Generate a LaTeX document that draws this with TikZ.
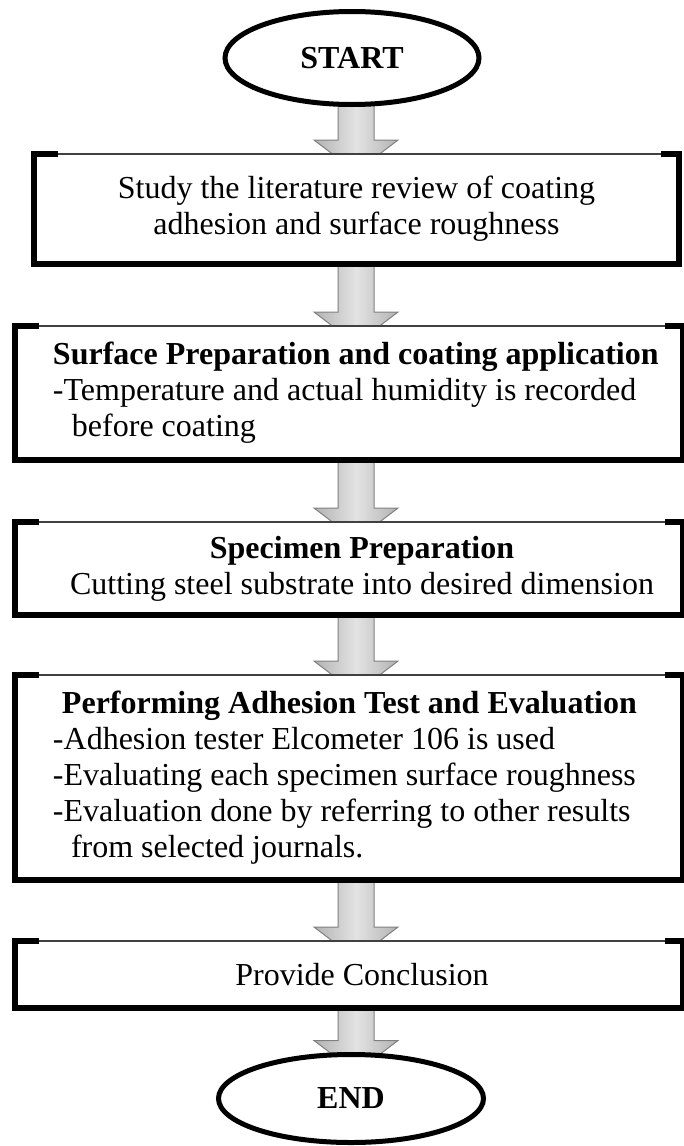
\documentclass[tikz,border=0pt]{standalone}
\usepackage{fontspec}
\setmainfont{Liberation Serif}
\usetikzlibrary{positioning,shapes.geometric,calc,backgrounds}

\tikzset{
  endpoint/.style={ellipse, draw, line width=5pt, fill=white, outer sep=0pt, inner sep=0pt, font=\fontsize{32}{36}\selectfont\bfseries},
  stepbox/.style={rectangle, draw=black!75, line width=2.5pt, fill=white, outer sep=0pt, inner sep=0pt, font=\fontsize{32}{36}\selectfont},
  listbox/.style={stepbox, text width=668pt, align=flush left},
  rim/.style={line width=6.5pt, line join=miter},
  blockarrow/.style={draw=gray, line width=1pt, left color=gray!60, right color=gray!60, middle color=gray!22}
}

\begin{document}
\begin{tikzpicture}
            \useasboundingbox (0,0) rectangle (683pt,-1146pt);

            % Nodes
            \node[endpoint, minimum width=254pt, minimum height=93pt] (start) at (352pt,-58pt) {START};
            \node[stepbox, minimum width=645pt, minimum height=110pt, align=center, below=49.5pt of start, xshift=4.5pt] (review) {Study the literature review of coating\\adhesion and surface roughness};
            \node[listbox, minimum width=668pt, minimum height=134pt, below=62pt of review, xshift=-7.5pt] (surface) {\hspace*{38pt}\textbf{Surface Preparation and coating application}\\\hspace*{38pt}-Temperature and actual humidity is recorded\\\hspace*{57pt}before coating};
            \node[stepbox, minimum width=668pt, minimum height=93pt, align=center, below=62pt of surface] (specimen) {\hspace*{26pt}\textbf{Specimen Preparation}\\\hspace*{26pt}Cutting steel substrate into desired dimension};
            \node[listbox, minimum width=668pt, minimum height=205pt, below=60pt of specimen] (adhesion) {\hspace*{47pt}\textbf{Performing Adhesion Test and Evaluation}\\\hspace*{38pt}-Adhesion tester Elcometer 106 is used\\\hspace*{38pt}-Evaluating each specimen surface roughness\\\hspace*{38pt}-Evaluation done by referring to other results\\\hspace*{56pt}from selected journals.};
            \node[stepbox, minimum width=668pt, minimum height=67pt, below=61pt of adhesion] (conclusion) {\hspace*{26pt}Provide Conclusion};
            \node[endpoint, minimum width=265pt, minimum height=88pt, below=46.5pt of conclusion, xshift=2pt] (finish) {END};

            % Thick rims
            \foreach \b in {review,surface,specimen,adhesion,conclusion}
                \draw[rim] ($(\b.north west)+(24pt,0)$) -- (\b.north west) -- (\b.south west) -- (\b.south east) -- (\b.north east) -- ($(\b.north east)+(-18pt,0)$);

            % Arrows
            \begin{pgfonlayer}{background}
                \foreach \a/\b in {start/review,review/surface,surface/specimen,specimen/adhesion,adhesion/conclusion,conclusion/finish}
                    \path[blockarrow] let \p1=(\a.south), \p2=(\b.north) in
                        (338pt,\y1+4pt) -- (338pt,\y2+14pt) -- (314pt,\y2+14pt) -- (356pt,\y2-18pt)
                        -- (398pt,\y2+14pt) -- (374pt,\y2+14pt) -- (374pt,\y1+4pt) -- cycle;
            \end{pgfonlayer}
        \end{tikzpicture}
\end{document}
